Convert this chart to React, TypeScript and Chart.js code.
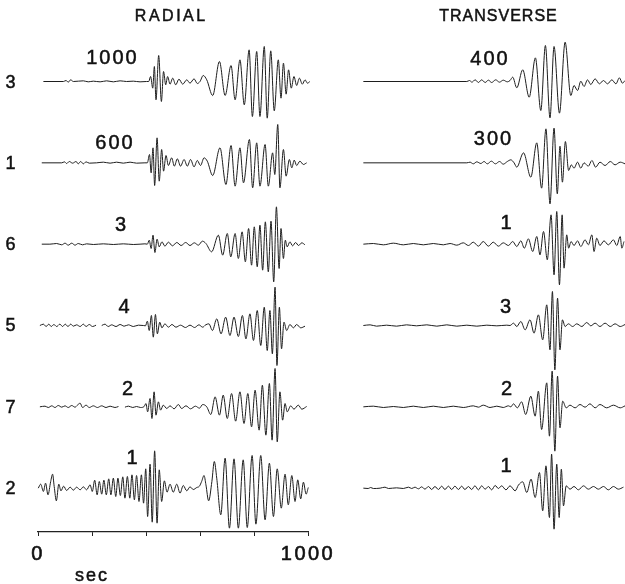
import React, { useEffect, useRef } from 'react';
import { Chart, registerables } from 'chart.js';

Chart.register(...registerables);

// Station order, top to bottom
const stations = ['3', '1', '6', '5', '7', '2'];
// Gain factor printed above each trace
const radialGains = ['1000', '600', '3', '4', '2', '1'];
const transverseGains = ['400', '300', '1', '3', '2', '1'];
// Time axis (seconds)
const timeTicks = [0, 200, 400, 600, 800, 1000];
const labelledTicks = [0, 1000];

// Each trace: [time (s), deflection (counts)]; null marks a gap in the record
type Sample = [number, number | null];

const radial3: Sample[] = [
  [20, 0], [94, 0], [104, 3], [112, -2], [121, 5], [131, 0], [168, 2], [186, -1], [205, 1], [230, -1],
  [254, 2], [279, -1], [304, 2], [328, 0], [353, 1], [378, -1], [402, 0], [410, 0], [417, 15], [425, -20],
  [431, 45], [437, -55], [447, 78], [457, -60], [465, 30], [473, -10], [480, 15], [489, -8], [499, 10], [510, -10],
  [522, 7], [536, -8], [551, 5], [563, -5], [578, 8], [590, -6], [600, 0], [612, 18], [625, 5], [647, -42],
  [672, 60], [693, -42], [715, 48], [730, -55], [748, 65], [764, -70], [782, 95], [794, -105], [810, 90], [822, -105],
  [838, 105], [849, -110], [862, 92], [875, -88], [890, 65], [900, -50], [909, 55], [919, -38], [928, 35], [938, -20],
  [948, 15], [958, -12], [968, 10], [979, -8], [989, 5], [998, -5], [1007, 0],
];

const radial1: Sample[] = [
  [14, 0], [88, 0], [98, 3], [106, -2], [116, 4], [128, -1], [141, 4], [149, -3], [158, 4], [168, -3],
  [178, 3], [190, -1], [217, 0], [242, 2], [267, -1], [291, 2], [316, -1], [341, 2], [365, -1], [396, 0],
  [405, 0], [413, 25], [419, -30], [426, 45], [432, -68], [441, 75], [449, -55], [458, 40], [465, -25], [474, 22],
  [483, -8], [495, 15], [505, -10], [516, 12], [528, -10], [541, 10], [553, -10], [565, 10], [578, -12], [590, 7],
  [602, -8], [615, 15], [627, 5], [647, -38], [674, 45], [696, -65], [715, 52], [730, -70], [748, 45], [761, -60],
  [783, 70], [795, -75], [810, 60], [822, -70], [841, 55], [853, -70], [869, 30], [877, -35], [888, 115], [896, -75],
  [909, 40], [919, -40], [931, 10], [940, -15], [949, 8], [958, -8], [970, 5], [983, -5], [995, 0],
];

const radial6: Sample[] = [
  [14, 0], [44, 0], [69, 2], [88, -2], [100, 3], [112, -3], [125, 3], [137, -3], [149, 2], [165, -2],
  [180, 1], [205, -1], [242, 1], [279, -1], [316, 1], [353, -1], [378, 0], [396, 1], [405, 0], [412, 12],
  [419, -13], [426, 27], [433, -25], [441, 15], [449, -8], [459, 7], [470, -6], [483, 6], [498, -5], [514, 5],
  [530, -4], [547, 5], [563, -4], [579, 4], [594, -3], [609, 9], [622, 2], [643, -23], [668, 27], [684, -33],
  [701, 32], [714, -38], [730, 32], [742, -43], [756, 37], [768, -53], [780, 47], [791, -63], [801, 52], [812, -68],
  [822, 57], [832, -78], [842, 67], [853, -83], [863, 69], [873, -113], [883, 112], [893, -73], [900, 47], [909, -43],
  [916, 12], [923, -8], [933, 7], [943, -5], [954, 5], [965, -4], [977, 4], [989, -2],
];

const radial5: Sample[] = [
  [7, 0], [20, 4], [30, -3], [40, 4], [49, -3], [59, 3], [69, -3], [81, 4], [91, -3], [101, 4],
  [111, -3], [121, 4], [131, -2], [143, 2], [156, -3], [168, 4], [178, -3], [190, 3], [202, -3], [215, 1],
  [225, null], [236, 0], [248, 4], [260, -3], [273, 2], [289, -3], [304, 3], [319, -2], [335, 2], [353, -3],
  [372, 1], [390, 0], [398, -1], [405, 13], [412, -15], [420, 30], [427, -35], [435, 33], [442, -25], [451, 10],
  [459, -7], [470, 5], [483, -5], [496, 3], [511, -5], [528, 1], [546, -6], [563, 1], [580, -6], [596, 2],
  [610, -5], [621, 2], [633, 5], [646, -15], [662, 20], [678, -25], [695, 25], [711, -30], [726, 25], [742, -33],
  [757, 30], [770, -40], [785, 35], [798, -45], [812, 45], [825, -60], [838, 55], [849, -75], [859, 45], [868, -85],
  [878, 115], [885, -120], [894, 55], [902, -70], [911, 10], [921, -15], [933, 3], [946, -7], [958, 3], [973, -7],
  [989, -2],
];

const radial7: Sample[] = [
  [7, 0], [26, 2], [38, -2], [51, 3], [63, -2], [75, 4], [88, -1], [100, 3], [112, -2], [125, 4],
  [137, -1], [146, 5], [156, 11], [165, -2], [178, 5], [190, -2], [205, 3], [220, -2], [236, 3], [252, -2],
  [267, 2], [285, -2], [298, 1], [306, null], [322, -1], [335, 2], [351, -2], [365, 1], [380, -2], [393, 1],
  [400, 10], [406, -15], [415, 25], [422, -35], [430, 45], [437, -25], [446, 15], [454, -10], [464, 5], [477, -5],
  [489, 3], [504, -6], [520, 7], [532, -5], [548, 3], [565, -6], [583, 2], [598, -4], [610, 7], [625, 0],
  [640, -23], [656, 30], [672, -25], [686, 35], [701, -35], [717, 40], [732, -43], [748, 45], [763, -50], [777, 40],
  [791, -60], [804, 50], [819, -70], [831, 65], [844, -85], [857, 70], [867, -100], [878, 115], [886, -105], [896, 45],
  [906, -40], [915, 10], [923, -15], [936, 3], [948, -7], [964, 5], [977, -7], [995, 1],
];

const radial2: Sample[] = [
  [1, 0], [10, 12], [20, -10], [28, 15], [37, -20], [47, 20], [54, 42], [60, 5], [68, -38], [77, 12],
  [85, -8], [95, 6], [106, -7], [119, 3], [131, -6], [143, 3], [156, -5], [168, 4], [180, -5], [193, 10],
  [201, -10], [210, 24], [219, -20], [227, 20], [236, -18], [244, 24], [253, -20], [262, 28], [270, -20], [279, 30],
  [288, -25], [296, 30], [305, -22], [314, 34], [322, -30], [331, 35], [340, -30], [348, 40], [357, -35], [365, 38],
  [374, -40], [383, 40], [391, -45], [399, 58], [406, -85], [415, 72], [423, -102], [432, 112], [441, -105], [449, 55],
  [458, -40], [468, 22], [478, -12], [489, 12], [501, -12], [514, 12], [526, -15], [538, 8], [551, -8], [563, 4],
  [575, -4], [588, 2], [598, 6], [606, 20], [615, 38], [622, 10], [632, -38], [644, 20], [653, 80], [662, 30],
  [677, -80], [693, 90], [709, -120], [726, 88], [742, -120], [760, 85], [775, -118], [793, 98], [807, -108], [825, 98],
  [841, -95], [857, 75], [872, -85], [886, 58], [901, -60], [915, 42], [927, -50], [940, 38], [952, -40], [962, 25],
  [973, -32], [983, 18], [993, -18], [1001, 2],
];

const transverse3: Sample[] = [
  [5, 0], [388, 0], [398, 3], [407, -2], [419, 5], [431, -3], [443, 5], [456, -3], [468, 4], [480, -3],
  [495, 5], [509, -2], [523, 4], [538, -1], [548, 3], [558, 13], [573, -19], [595, 35], [619, -47], [642, 71],
  [662, -87], [679, 108], [696, -109], [711, 105], [731, -95], [752, 118], [773, -42], [785, -12], [798, -27], [810, 1],
  [822, -15], [835, 5], [847, -9], [863, 8], [879, -7], [894, 3], [909, -7], [925, 5], [940, -7], [953, 11],
  [964, -5], [974, 3],
];

const transverse1: Sample[] = [
  [5, 0], [388, 0], [400, 2], [412, -3], [425, 3], [440, -2], [452, 4], [464, -3], [479, 5], [494, -3],
  [509, 4], [523, -4], [538, 4], [551, 9], [563, 0], [573, -13], [598, 30], [625, -43], [647, 60], [665, -76],
  [681, 102], [696, -123], [711, 104], [723, -93], [733, 50], [742, -58], [753, 64], [765, -23], [775, -6], [785, -16],
  [798, 2], [810, -16], [822, 0], [838, -10], [851, 7], [865, -13], [881, 2], [900, -8], [919, 4], [937, -6],
  [956, 2], [974, -3],
];

const transverse6: Sample[] = [
  [5, 0], [42, 2], [79, -2], [116, 3], [153, -2], [190, 2], [227, -2], [264, 2], [301, -2], [326, 2],
  [351, -3], [375, 4], [394, -4], [412, 6], [431, -6], [449, 8], [468, -6], [486, 6], [505, -6], [523, 4],
  [542, -4], [558, 8], [573, -7], [588, 10], [601, -12], [616, 16], [632, -22], [647, 23], [659, -32], [672, 38],
  [686, -47], [700, 88], [711, -92], [721, 98], [731, -122], [741, 88], [748, -72], [758, 28], [765, -12], [774, 8],
  [785, -4], [798, 10], [810, -7], [826, 13], [838, -2], [851, 28], [859, -22], [869, 18], [881, -4], [896, 10],
  [912, -2], [931, 13], [943, -4], [956, 23], [962, -12], [970, 8],
];

const transverse5: Sample[] = [
  [5, 0], [30, 2], [54, -2], [91, 1], [128, -2], [165, 2], [202, -1], [240, 2], [277, -2], [314, 2],
  [351, -2], [388, 1], [425, -2], [462, 1], [499, -1], [536, 1], [548, 0], [561, 7], [573, -3], [588, 12],
  [604, -13], [622, 17], [637, -23], [653, 32], [669, -43], [684, 62], [696, -73], [705, 102], [714, -133], [724, 82],
  [733, -73], [742, 17], [752, -3], [764, 5], [780, -3], [795, 5], [814, -3], [832, 9], [847, -1], [863, 7],
  [881, -3], [900, 7], [919, -3], [937, 5], [956, -3], [974, 3],
];

const transverse7: Sample[] = [
  [5, 0], [42, 2], [79, -2], [116, 1], [153, -2], [190, 2], [227, -2], [264, 2], [301, -2], [338, 2],
  [375, -2], [412, 3], [431, -1], [449, 5], [474, -2], [499, 2], [523, -2], [542, 3], [551, 0], [561, 9],
  [575, -3], [591, 15], [606, -23], [625, 32], [641, -28], [653, 47], [665, -68], [684, 72], [694, -88], [704, 107],
  [714, -133], [724, 92], [733, -63], [743, 17], [756, -3], [770, 5], [789, -3], [807, 7], [826, -1], [844, 9],
  [863, -3], [881, 7], [906, -3], [931, 5], [956, -3], [974, 3],
];

const transverse2: Sample[] = [
  [5, 0], [23, -1], [32, 2], [42, -1], [67, 0], [85, 3], [98, -1], [128, 1], [153, -1], [172, 3],
  [184, -1], [196, 3], [209, -2], [221, 4], [233, -3], [246, 5], [258, -4], [270, 5], [283, -4], [295, 6],
  [307, -4], [320, 6], [332, -4], [344, 6], [357, -4], [369, 6], [381, -4], [394, 5], [406, -4], [418, 7],
  [431, -5], [443, 7], [456, -3], [468, 5], [480, -5], [493, 8], [505, -1], [517, 7], [533, -5], [548, 7],
  [567, -8], [579, 9], [595, 19], [610, -13], [626, 27], [641, -28], [657, 47], [669, -68], [681, 67], [694, -88],
  [702, 102], [711, -123], [721, 72], [730, -88], [738, 57], [746, -53], [756, 7], [770, -3], [785, 5], [801, -5],
  [820, 7], [838, -3], [857, 5], [875, -3], [894, 5], [912, -5], [931, 5], [949, -3], [968, 3],
];

const radialTraces = [radial3, radial1, radial6, radial5, radial7, radial2];
const transverseTraces = [transverse3, transverse1, transverse6, transverse5, transverse7, transverse2];

// Vertical spacing between station baselines, in deflection counts
const ROW_STEP = 244;
const Y_MIN = -1351.5;
const Y_MAX = 154.5;

const FONT = '"Liberation Sans", Arial, Helvetica, sans-serif';
const INK = '#111';
const TRACE_INK = '#1e1e1e';

function traceDatasets(traces: Sample[][]) {
  return traces.map((trace, row) => ({
    label: stations[row],
    data: trace.map(([t, a]) => ({ x: t, y: a === null ? null : a - row * ROW_STEP })),
    borderColor: TRACE_INK,
    borderWidth: 1,
    pointRadius: 0,
    cubicInterpolationMode: 'monotone' as const,
    spanGaps: false,
    clip: false as const,
  }));
}

const spacingPlugin = {
  id: 'tickSpacing',
  beforeDraw(chart: any) {
    chart.ctx.letterSpacing = '2.5px';
  },
};

function useTraceChart(
  ref: React.RefObject<HTMLCanvasElement | null>,
  traces: Sample[][],
  withAxis: boolean,
  xMax: number,
  padding: { left: number; right: number; top: number; bottom: number },
) {
  useEffect(() => {
    if (!ref.current) return;
    const xScale: any = {
      type: 'linear',
      min: 0,
      max: xMax,
      display: withAxis,
    };
    if (withAxis) {
      Object.assign(xScale, {
        border: { display: true, color: '#222', width: 1.2 },
        grid: { drawOnChartArea: false, drawTicks: true, tickLength: 4, color: '#222', lineWidth: 1 },
        afterBuildTicks: (scale: any) => {
          scale.ticks = timeTicks.map((v) => ({ value: v }));
        },
        afterFit: (scale: any) => {
          scale.height = 52;
        },
        ticks: {
          autoSkip: false,
          maxRotation: 0,
          padding: 6,
          color: INK,
          textStrokeColor: INK,
          textStrokeWidth: 0.6,
          font: { family: FONT, size: 20 },
          callback: (v: any) => (labelledTicks.includes(Number(v)) ? String(v) : ''),
        },
      });
    }
    const chart = new Chart(ref.current, {
      type: 'line',
      data: { datasets: traceDatasets(traces) as any },
      options: {
        animation: false,
        responsive: false,
        events: [],
        layout: { padding },
        plugins: { legend: { display: false }, tooltip: { enabled: false } },
        scales: {
          x: xScale,
          y: { type: 'linear', min: Y_MIN, max: Y_MAX, display: false },
        },
      },
      plugins: withAxis ? [spacingPlugin] : [],
    });
    return () => chart.destroy();
  }, []);
}

function Text({ x, y, text, size, spacing = 0 }: { x: number; y: number; text: string; size: number; spacing?: number }) {
  return (
    <div
      style={{
        position: 'absolute',
        left: x,
        top: y,
        transform: 'translate(-50%, -50%)',
        fontFamily: FONT,
        fontSize: size,
        lineHeight: 1,
        letterSpacing: spacing,
        paddingLeft: spacing,
        whiteSpace: 'nowrap',
        color: INK,
        WebkitTextStroke: `0.5px ${INK}`,
      }}
    >
      {text}
    </div>
  );
}

export default function App() {
  const leftRef = useRef<HTMLCanvasElement>(null);
  const rightRef = useRef<HTMLCanvasElement>(null);

  useTraceChart(leftRef, radialTraces, true, 1000, { left: 38, right: 37, top: 30, bottom: 0 });
  useTraceChart(rightRef, transverseTraces, false, 970, { left: 22, right: 1, top: 30, bottom: 52 });

  const rowY = (k: number) => 81.5 + k * 81.3;
  const radialGainPos = [[111.5, 57], [114, 142], [120.5, 224], [124, 305.5], [127.5, 387.5], [132, 456.5]];
  const transverseGainPos = [[489, 57.5], [492.5, 137.5], [506, 221.5], [505.5, 305.5], [506.5, 387.5], [506, 465]];

  return (
    <div style={{ position: 'absolute', left: 0, top: 0, width: 625, height: 584, background: '#fff', overflow: 'hidden' }}>
      <canvas ref={leftRef} width={345} height={584} style={{ position: 'absolute', left: 0, top: 0, width: 345, height: 584 }} />
      <canvas ref={rightRef} width={285} height={584} style={{ position: 'absolute', left: 340, top: 0, width: 285, height: 584 }} />
      <Text x={170} y={16} text="RADIAL" size={16} spacing={2.5} />
      <Text x={498} y={16} text="TRANSVERSE" size={16} spacing={1} />
      {stations.map((s, k) => (
        <Text key={'s' + k} x={10.5} y={rowY(k)} text={s} size={18} />
      ))}
      {radialGains.map((g, k) => (
        <Text key={'r' + k} x={radialGainPos[k][0]} y={radialGainPos[k][1]} text={g} size={20} spacing={2} />
      ))}
      {transverseGains.map((g, k) => (
        <Text key={'t' + k} x={transverseGainPos[k][0]} y={transverseGainPos[k][1]} text={g} size={20} spacing={2} />
      ))}
      <Text x={91} y={575} text="sec" size={18} spacing={2} />
    </div>
  );
}
